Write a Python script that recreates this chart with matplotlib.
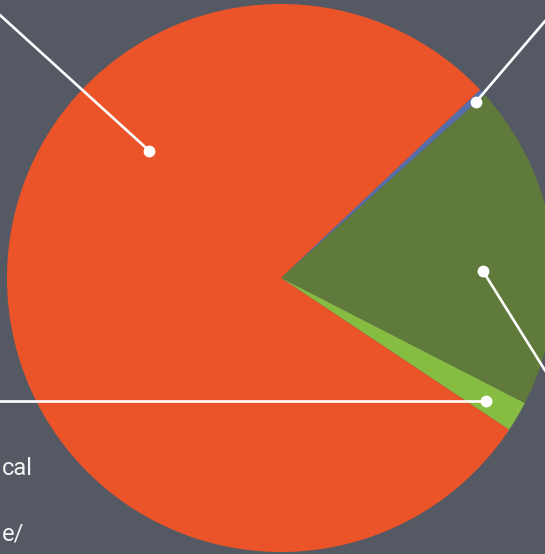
import numpy as np
import matplotlib
matplotlib.use("Agg")
import matplotlib.pyplot as plt

# slice shares (%), drawn clockwise from the upper right
shares = [0.4, 19.2, 1.8, 78.6]
colors = ["#586eaa", "#5f7a3a", "#86bc42", "#eb5429"]
label_tails = ["cal", "e/"]

BG = "#545964"
W, H = 545, 554
center = (281, 276)
radius = 274

# leader anchors: (angle in degrees, distance from centre) and tail offset in px
anchors = [(42.1, 263), (2.0, 202), (-31.0, 239), (136.0, 183)]
tails = [(100, 117), (80, -128), (-520, 0), (-220, 200)]

fig = plt.figure(figsize=(W / 100, H / 100), dpi=100, facecolor=BG)
ax = fig.add_axes([0, 0, 1, 1])
ax.set_facecolor(BG)

ax.pie(shares, colors=colors, startangle=43.4, counterclock=False,
       center=center, radius=radius, wedgeprops=dict(linewidth=0),
       frame=True)
ax.set_xlim(0, W)
ax.set_ylim(0, H)
ax.set_aspect("equal")
ax.axis("off")

for (ang, r), (dx, dy) in zip(anchors, tails):
    x = center[0] + r * np.cos(np.radians(ang))
    y = center[1] + r * np.sin(np.radians(ang))
    ax.plot([x, x + dx], [y, y + dy], color="white", lw=1.9,
            solid_capstyle="butt", clip_on=False, zorder=3)
    ax.plot(x, y, "o", color="white", markersize=7.5, zorder=4)

# wrapped label text spilling in from the left edge
for txt, yb in zip(label_tails, [79, 14]):
    ax.text(2, yb, txt, color="#f2f2f2", fontsize=17, family="Roboto",
            va="baseline", ha="left")

fig.savefig("out.png", dpi=100, facecolor=BG)
